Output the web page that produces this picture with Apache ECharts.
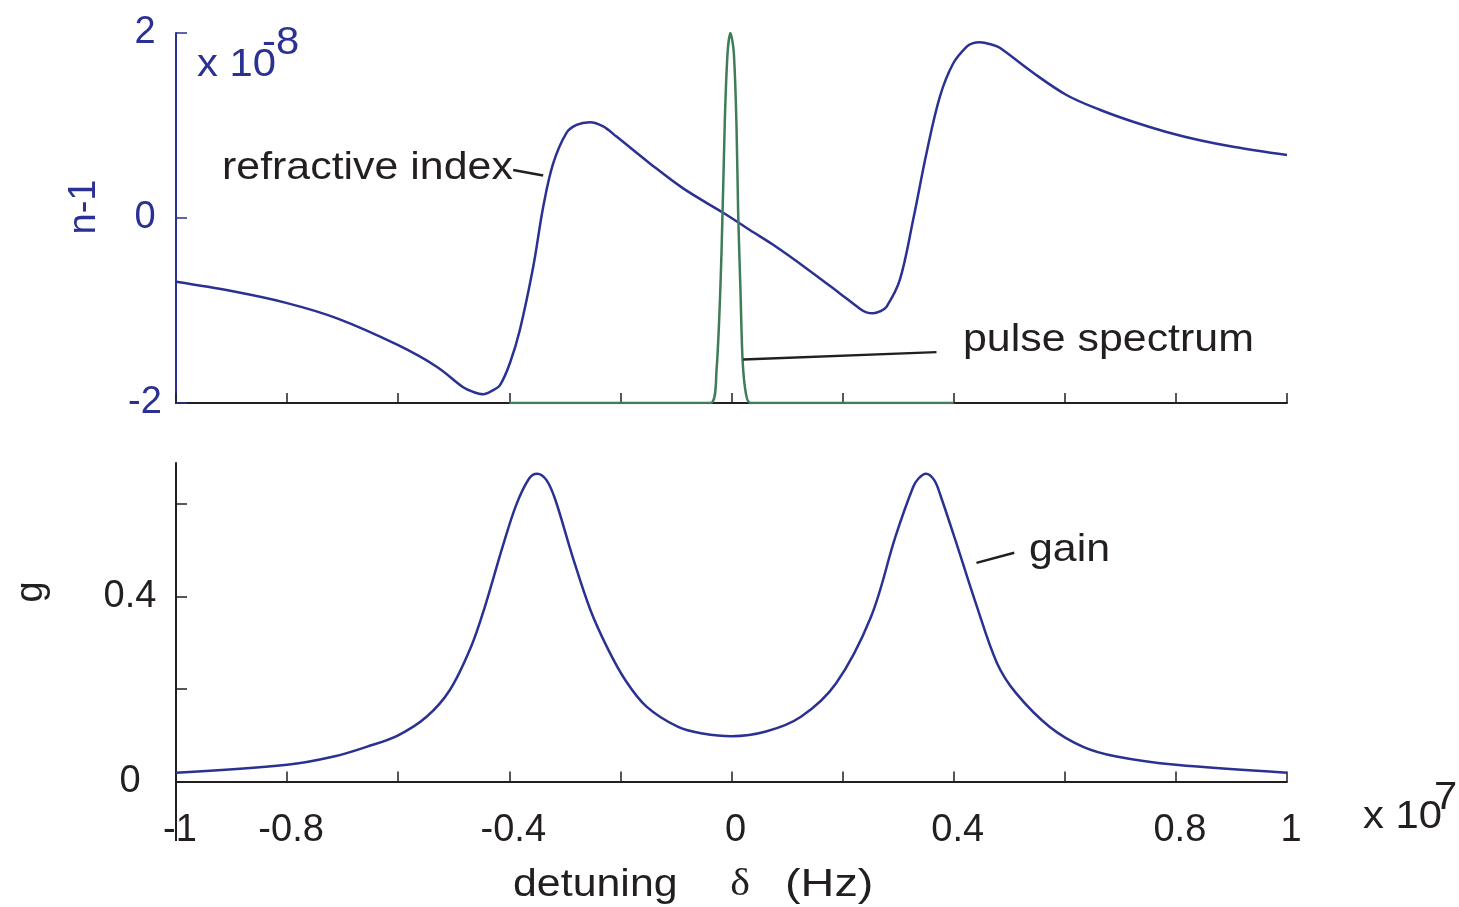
<!DOCTYPE html>
<html lang="en">
<head>
<meta charset="UTF-8">
<title>refractive index / gain</title>
<script src="https://cdn.jsdelivr.net/npm/echarts@6/dist/echarts.min.js"></script>
<style>
    html, body { margin: 0; padding: 0; background: #fff; }
    #main { width: 1459px; height: 907px; }
</style>
</head>
<body>
<div id="main"></div>
<script>
    // detuning, x 10^7 Hz
    let refrX = [-1, -0.9, -0.8, -0.71, -0.6, -0.53, -0.483, -0.465, -0.447, -0.429, -0.417, -0.399, -0.381, -0.357, -0.339,
        -0.321, -0.297, -0.279, -0.255, -0.231, -0.207, -0.147, -0.087, -0.015, 0, 0.033, 0.075, 0.135, 0.195, 0.231,
        0.243, 0.255, 0.267, 0.279, 0.303, 0.327, 0.351, 0.375, 0.399, 0.423, 0.435, 0.447, 0.471, 0.483, 0.543, 0.603,
        0.663, 0.723, 0.783, 0.843, 0.903, 1];
    // n-1, x 10^-8
    let refrY = [-0.69, -0.79, -0.92, -1.085, -1.375, -1.61, -1.83, -1.88, -1.905, -1.86, -1.81, -1.57, -1.21, -0.53, 0.12,
        0.59, 0.92, 1.006, 1.035, 0.99, 0.88, 0.59, 0.32, 0.057, 0, -0.13, -0.29, -0.545, -0.815, -0.98,
        -1.02, -1.03, -1.01, -0.96, -0.67, -0.02, 0.7, 1.31, 1.67, 1.85, 1.89, 1.9, 1.87, 1.84, 1.57, 1.33,
        1.17, 1.04, 0.93, 0.84, 0.77, 0.68];

    // pulse spectrum, drawn on the n-1 axis
    let pulseX = [-0.4, -0.038, -0.027, -0.018, -0.012, -0.007, -0.002, 0.004, 0.009, 0.012, 0.016, 0.02, 0.026, 0.034, 0.4];
    let pulseY = [-2, -2, -1.65, -0.38, 1.06, 1.79, 2, 1.8, 1, 0.05, -0.75, -1.54, -1.9, -2, -2];

    // gain g
    let gainX = [-1, -0.8, -0.716, -0.657, -0.6, -0.549, -0.507, -0.469, -0.444, -0.412, -0.387, -0.364, -0.35, -0.333,
        -0.317, -0.286, -0.254, -0.223, -0.191, -0.153, -0.096, -0.052, 0, 0.062, 0.125, 0.188, 0.251, 0.295, 0.327,
        0.337, 0.35, 0.365, 0.377, 0.409, 0.44, 0.478, 0.513, 0.573, 0.633, 0.693, 0.8, 1];
    let gainY = [0.019, 0.036, 0.054, 0.075, 0.1, 0.14, 0.198, 0.291, 0.378, 0.508, 0.6, 0.656, 0.666, 0.652,
        0.609, 0.486, 0.371, 0.288, 0.219, 0.162, 0.118, 0.104, 0.098, 0.108, 0.14, 0.212, 0.356, 0.529, 0.637,
        0.656, 0.666, 0.652, 0.616, 0.5, 0.385, 0.256, 0.19, 0.118, 0.075, 0.054, 0.036, 0.019];

    let xTickLabels = ['-1', '-0.8', '-0.4', '0', '0.4', '0.8', '1'];
    let gTicks = [0, 0.2, 0.4, 0.6];
    let gTickLabels = [0, 0.4];

    // leader lines of the labels (data coords)
    let refrLeader = [[-0.393, 0.52], [-0.339, 0.46]];
    let pulseLeader = [[0.021, -1.53], [0.369, -1.45]];
    let gainLeader = [[0.441, 0.473], [0.509, 0.495]];

    let blue = '#2b3192';
    let green = '#3f7d58';
    let ink = '#231f20';
    let font = 'Liberation Sans';

    function pairs(xs, ys) {
        return xs.map(function (x, i) { return [x, ys[i]]; });
    }

    function leader(p) {
        return {
            silent: true,
            symbol: ['none', 'none'],
            label: { show: false },
            lineStyle: { color: ink, width: 2.5, type: 'solid' },
            data: [[{ coord: p[0] }, { coord: p[1] }]]
        };
    }

    // the source figure is a bit wider than tall, so texts get a small horizontal stretch
    function txt(x, y, s, size, color, extra) {
        let o = {
            type: 'text', x: x, y: y, z: 100, scaleX: 1.1,
            style: { text: s, fontSize: size, fontFamily: font, fill: color, align: 'left', verticalAlign: 'middle' }
        };
        return Object.assign(o, extra || {});
    }

    let myChart = echarts.init(document.getElementById('main'));

    let option = {
        animation: false,
        backgroundColor: '#fff',
        grid: [
            { left: 176, right: 172, top: 33, height: 370 },
            { left: 176, right: 172, top: 463, height: 318.5 }
        ],
        xAxis: [
            {
                type: 'value', gridIndex: 0, min: -1, max: 1, interval: 0.2,
                axisLine: { onZero: false, lineStyle: { color: ink, width: 2 } },
                axisTick: { inside: true, length: 10, lineStyle: { color: ink, width: 1.5 } },
                axisLabel: { show: false },
                splitLine: { show: false }
            },
            {
                type: 'value', gridIndex: 1, min: -1, max: 1, interval: 0.2,
                axisLine: { onZero: false, lineStyle: { color: ink, width: 2 } },
                axisTick: { inside: true, length: 10, lineStyle: { color: ink, width: 1.5 } },
                axisLabel: {
                    show: true, margin: 30, fontSize: 38, fontFamily: font, color: ink,
                    showMinLabel: true, showMaxLabel: true, padding: [0, 0, 0, 8],
                    formatter: function (v) {
                        let s = String(Math.round(v * 10) / 10);
                        return xTickLabels.indexOf(s) >= 0 ? s : '';
                    }
                },
                splitLine: { show: false }
            }
        ],
        yAxis: [
            {
                type: 'value', gridIndex: 0, min: -2, max: 2, interval: 2,
                axisLine: { show: true, onZero: false, lineStyle: { color: blue, width: 2 } },
                axisTick: { show: true, inside: true, length: 11, lineStyle: { color: blue, width: 1.5 } },
                axisLabel: { margin: 31, align: 'center', fontSize: 38, fontFamily: font, color: blue },
                splitLine: { show: false }
            },
            {
                type: 'value', gridIndex: 1, min: 0, max: 0.689,
                axisLine: { show: true, onZero: false, lineStyle: { color: ink, width: 2 } },
                axisTick: { show: true, inside: true, length: 11, customValues: gTicks, lineStyle: { color: ink, width: 1.5 } },
                axisLabel: {
                    margin: 46, align: 'center', fontSize: 38, fontFamily: font, color: ink,
                    customValues: gTickLabels,
                    formatter: function (v) { return String(Math.round(v * 10) / 10); }
                },
                splitLine: { show: false }
            }
        ],
        series: [
            {
                name: 'refractive index', type: 'line', xAxisIndex: 0, yAxisIndex: 0,
                data: pairs(refrX, refrY), showSymbol: false, smooth: 0.35,
                lineStyle: { color: blue, width: 2.5 }, z: 3,
                markLine: leader(refrLeader)
            },
            {
                name: 'pulse spectrum', type: 'line', xAxisIndex: 0, yAxisIndex: 0,
                data: pairs(pulseX, pulseY), showSymbol: false, smooth: 0.3,
                lineStyle: { color: green, width: 2.5 }, z: 4,
                markLine: leader(pulseLeader)
            },
            {
                name: 'gain', type: 'line', xAxisIndex: 1, yAxisIndex: 1,
                data: pairs(gainX, gainY), showSymbol: false, smooth: 0.35,
                lineStyle: { color: blue, width: 2.5 }, z: 3,
                markLine: leader(gainLeader)
            }
        ],
        graphic: [
            // y axis of the gain panel runs on a little below zero
            {
                type: 'line', z: 50,
                shape: { x1: 176, y1: 781.5, x2: 176, y2: 841 },
                style: { stroke: ink, lineWidth: 2 }
            },
            txt(197, 66, 'x 10', 38, blue),
            txt(262, 44, '-8', 38, blue),
            txt(1363, 818, 'x 10', 38, ink),
            txt(1434, 799, '7', 38, ink),
            txt(222, 168, 'refractive index', 39, ink),
            txt(963, 340, 'pulse spectrum', 39, ink),
            txt(1029, 550, 'gain', 39, ink),
            txt(513, 885, 'detuning', 39, ink),
            {
                type: 'text', x: 740, y: 885, z: 100, scaleX: 1.1,
                style: { text: 'δ', fontSize: 38, fontFamily: 'Liberation Serif', fill: ink, align: 'center', verticalAlign: 'middle' }
            },
            txt(785, 885, '(Hz)', 39, ink, { scaleX: 1.2 }),
            {
                type: 'text', x: 85, y: 207, rotation: Math.PI / 2, z: 100,
                style: { text: 'n-1', fontSize: 38, fontFamily: font, fill: blue, align: 'center', verticalAlign: 'middle' }
            },
            {
                type: 'text', x: 32, y: 592, rotation: Math.PI / 2, z: 100,
                style: { text: 'g', fontSize: 38, fontFamily: font, fill: ink, align: 'center', verticalAlign: 'middle' }
            }
        ]
    };
    myChart.setOption(option);
</script>
</body>
</html>
